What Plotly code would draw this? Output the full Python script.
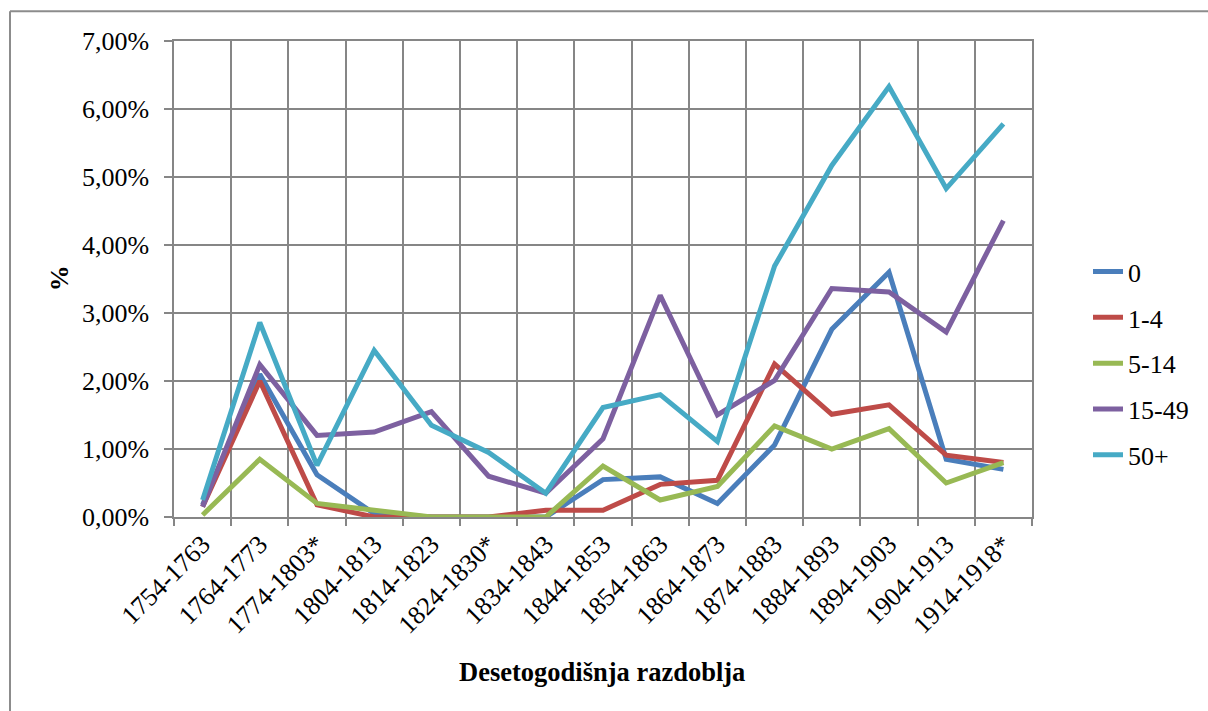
import plotly.graph_objects as go

categories = ["1754-1763", "1764-1773", "1774-1803*", "1804-1813", "1814-1823",
              "1824-1830*", "1834-1843", "1844-1853", "1854-1863", "1864-1873",
              "1874-1883", "1884-1893", "1894-1903", "1904-1913", "1914-1918*"]

s_0     = [0.18, 2.10, 0.62, 0.05, 0.00, 0.00, 0.00, 0.55, 0.59, 0.20, 1.06, 2.76, 3.60, 0.85, 0.70]
s_1_4   = [0.15, 2.00, 0.18, 0.00, 0.00, 0.00, 0.10, 0.10, 0.48, 0.54, 2.25, 1.51, 1.65, 0.91, 0.80]
s_5_14  = [0.03, 0.85, 0.20, 0.10, 0.00, 0.00, 0.00, 0.75, 0.25, 0.45, 1.34, 1.00, 1.30, 0.50, 0.80]
s_15_49 = [0.15, 2.24, 1.20, 1.25, 1.55, 0.60, 0.35, 1.15, 3.26, 1.50, 2.01, 3.36, 3.31, 2.72, 4.36]
s_50    = [0.25, 2.86, 0.76, 2.45, 1.35, 0.95, 0.35, 1.61, 1.80, 1.11, 3.69, 5.17, 6.33, 4.83, 5.78]

series_names = ["0", "1-4", "5-14", "15-49", "50+"]
series_vals = [s_0, s_1_4, s_5_14, s_15_49, s_50]
colors = ["#4A7EBB", "#BE4B48", "#98B954", "#7D60A0", "#46AAC5"]

FONT = '"Liberation Serif", "Times New Roman", serif'

fig = go.Figure()
for name, vals, col in zip(series_names, series_vals, colors):
    fig.add_trace(go.Scatter(
        x=categories, y=[v / 100 for v in vals], name=name, mode="lines",
        line=dict(color=col, width=5), legendgroup=name))

# plot area pixels
L, R, T, B = 174, 1032, 40.7, 517
W, H = 1208, 711
def px(X):
    return (X - L) / (R - L)
def py(Y):
    return (B - Y) / (B - T)

fig.update_layout(
    width=W, height=H,
    margin=dict(l=L, r=W - R, t=T, b=H - B),
    paper_bgcolor="white", plot_bgcolor="white",
    separators=",.",
    font=dict(family=FONT, size=26, color="black"),
    showlegend=True,
    legend=dict(x=px(1088), y=py(248), xanchor="left", yanchor="top",
                font=dict(family=FONT, size=26), tracegroupgap=9,
                bgcolor="rgba(0,0,0,0)"),
    xaxis=dict(type="category", range=[-0.5, 14.5], tickson="boundaries",
               showgrid=True, gridcolor="#868686", gridwidth=1.5,
               showline=True, linecolor="#868686", linewidth=1.5, mirror=True,
               ticks="outside", ticklen=7, tickcolor="#868686", tickwidth=1.5,
               tickangle=-45, tickfont=dict(family=FONT, size=26, color="black")),
    yaxis=dict(range=[0, 0.07], dtick=0.01, tickformat=".2%",
               showgrid=True, gridcolor="#868686", gridwidth=1.5,
               showline=True, linecolor="#868686", linewidth=1.5, mirror=True,
               ticks="outside", ticklen=8, tickcolor="#868686", tickwidth=1.5,
               ticklabelstandoff=10,
               zeroline=False, tickfont=dict(family=FONT, size=26, color="black")),
    annotations=[
        dict(text="<b>Desetogodišnja razdoblja</b>", x=px(602), y=py(672),
             xref="paper", yref="paper", showarrow=False,
             xanchor="center", yanchor="middle",
             font=dict(family=FONT, size=26.5)),
        dict(text="<b>%</b>", x=px(59), y=py(278), xref="paper", yref="paper",
             showarrow=False, textangle=-90, xanchor="center", yanchor="middle",
             font=dict(family=FONT, size=26)),
    ],
    shapes=[
        dict(type="line", xref="paper", yref="paper",
             x0=px(10), x1=px(1208), y0=py(11), y1=py(11),
             line=dict(color="#8C8C8C", width=2)),
        dict(type="line", xref="paper", yref="paper",
             x0=px(10), x1=px(10), y0=py(11), y1=py(711),
             line=dict(color="#8C8C8C", width=2)),
    ],
)

fig.write_html("out.html", config={"displayModeBar": False},
               post_script="document.body.style.margin='0';document.body.style.padding='0';")
